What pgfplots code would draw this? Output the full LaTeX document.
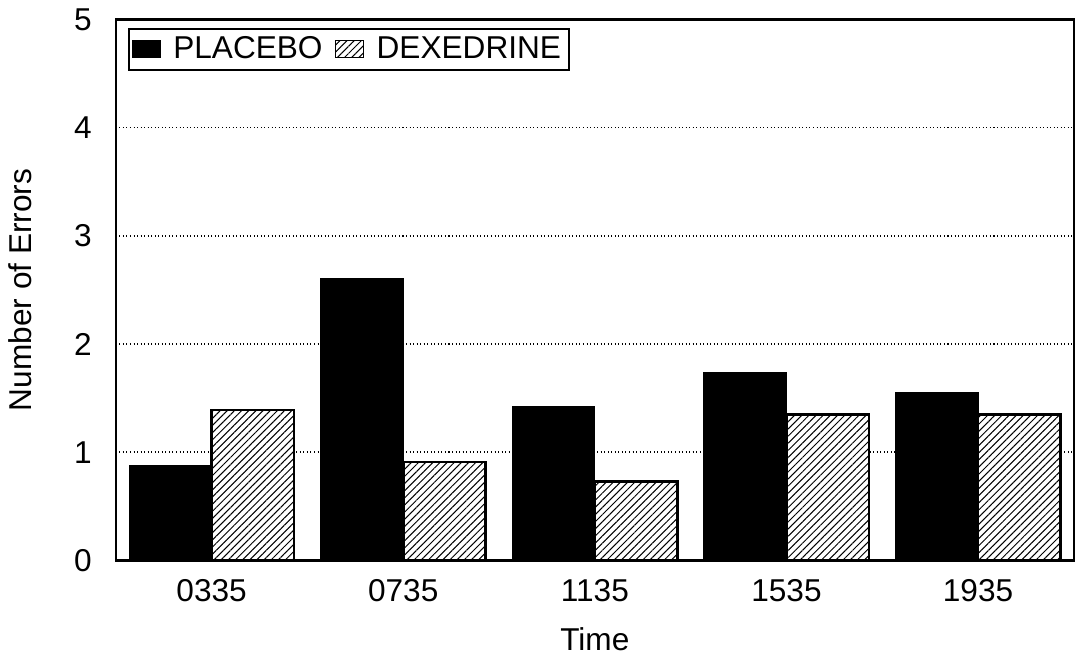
\documentclass[border=0pt]{standalone}
\usepackage{pgfplots}
\pgfplotsset{compat=1.18}
\usetikzlibrary{patterns.meta}
\usepackage{fontspec}
\setmainfont{Liberation Sans}
\pgfplotstableread{
x placebo dexedrine
0 0.88 1.39
1 2.60 0.91
2 1.42 0.73
3 1.74 1.35
4 1.55 1.35
}\errtab
\begin{document}
\begin{tikzpicture}
\begin{axis}[
  scale only axis,
  width=379pt, height=214pt,
  xmin=-0.5, xmax=4.5,
  ymin=0, ymax=5,
  ybar,
  bar width=0.43,
  xtick=data,
  xticklabels={0335,0735,1135,1535,1935},
  ytick={0,1,2,3,4,5},
  major tick length=0pt,
  tick label style={font=\fontsize{12.5}{14}\selectfont},
  /pgf/number format/assume math mode=true,
  yticklabel style={xshift=-6pt},
  xticklabel style={yshift=-4pt},
  ymajorgrids,
  grid style={black, densely dotted, line width=0.6pt},
  axis line style={black, line width=0.9pt},
  xlabel={Time},
  ylabel={Number of Errors},
  label style={font=\fontsize{12.5}{14}\selectfont},
  x label style={at={(axis description cs:0.5,-0.146)}, anchor=center},
  y label style={at={(axis description cs:-0.1,0.5)}, anchor=center},
  legend style={at={(axis description cs:0.013,0.985)}, anchor=north west,
    legend columns=2, font=\fontsize{12.5}{14}\selectfont, draw=black, line width=0.8pt,
    inner sep=1pt, column sep=3pt},
  legend image code/.code={\draw[#1, line width=0.4pt] (0pt,-3.5pt) rectangle (11pt,3.5pt);},
]
\addplot[fill=black, draw=black, line width=0.5pt, bar shift=-0.215] table[x=x, y=placebo] {\errtab};
\addlegendentry{PLACEBO}
\addplot[fill=white, draw=black, line width=1pt, bar shift=0.215,
  postaction={pattern={Lines[angle=45, distance=2pt, line width=0.4pt]}}] table[x=x, y=dexedrine] {\errtab};
\addlegendentry{DEXEDRINE}
\end{axis}
\end{tikzpicture}
\end{document}
